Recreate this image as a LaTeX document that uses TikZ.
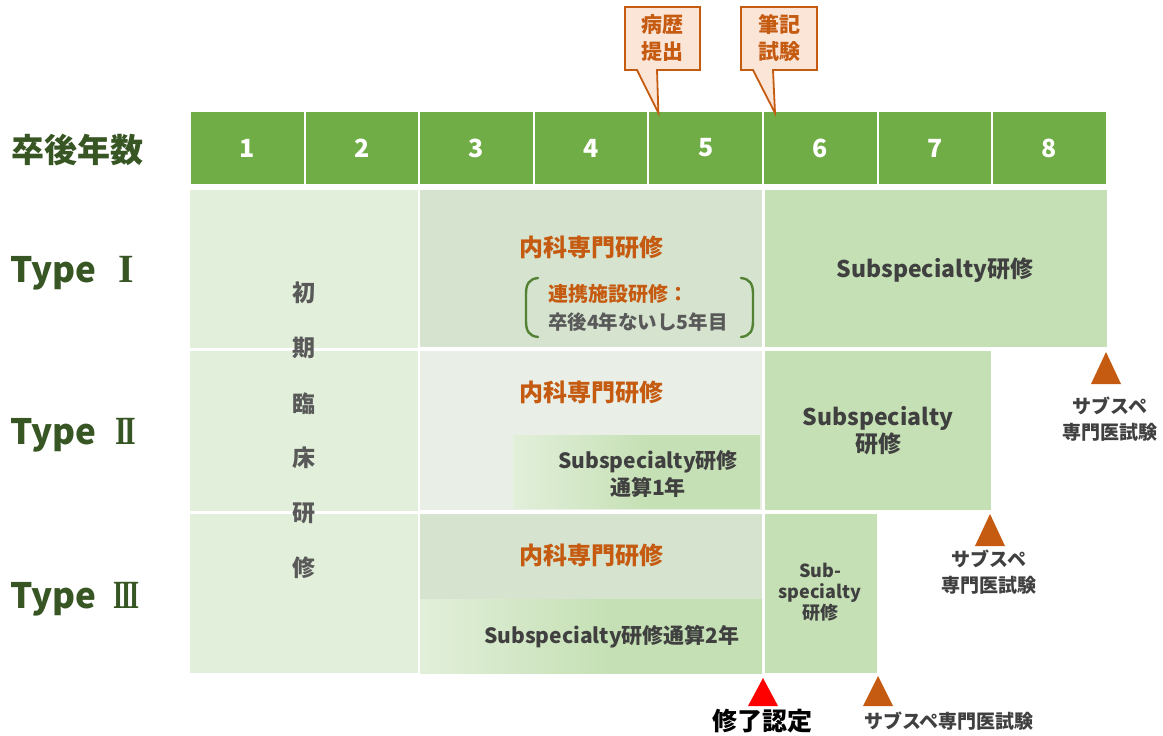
\documentclass[tikz,border=0pt]{standalone}
\usepackage{fontspec}
\setmainfont{Noto Sans CJK JP}
\newfontfamily\serifnum{Liberation Serif}
\usetikzlibrary{calc}
\definecolor{hdrgreen}{HTML}{70AD47}
\definecolor{darkgreen}{HTML}{375623}
\definecolor{pale}{HTML}{E2EFDA}
\definecolor{midgreen}{HTML}{D6E4CF}
\definecolor{paler}{HTML}{E9EFE6}
\definecolor{subgreen}{HTML}{C5E0B4}
\definecolor{orng}{HTML}{C55A11}
\definecolor{peach}{HTML}{FBE5D6}
\definecolor{txtgray}{HTML}{404040}
\definecolor{txtgray2}{HTML}{595959}
\definecolor{brgreen}{HTML}{548235}
\definecolor{redtri}{HTML}{FF0000}
\pgfdeclarehorizontalshading{fadegreen}{100bp}{color(0bp)=(pale); color(25bp)=(pale); color(53bp)=(subgreen); color(100bp)=(subgreen)}
\begin{document}
\begin{tikzpicture}[x=1pt,y=-1pt,
  every node/.style={inner sep=0pt, outer sep=0pt},
  hcell/.style={fill=hdrgreen, text=white, minimum width=112.6pt, minimum height=72pt, font=\bfseries\fontsize{25}{30}\selectfont},
  typelbl/.style={text=darkgreen, anchor=base west, font=\bfseries\fontsize{35}{40}\selectfont},
  romnum/.style={text=darkgreen, anchor=base west, font=\serifnum\bfseries\fontsize{40}{42}\selectfont},
  orgtitle/.style={text=orng, font=\bfseries\fontsize{24}{28}\selectfont},
  subtxt/.style={text=txtgray, align=center, font=\bfseries\fontsize{23}{27}\selectfont},
  vtxt/.style={text=txtgray2, font=\bfseries\fontsize{23}{27}\selectfont},
  examlbl/.style={text=txtgray, align=center, font=\bfseries\fontsize{19}{26}\selectfont},
  callout/.style={draw=orng, fill=peach, line width=1.8pt, line join=miter},
  callouttxt/.style={text=orng, align=center, font=\bfseries\fontsize{21}{27}\selectfont},
  bracket/.style={draw=brgreen, line width=2.4pt, line cap=round}
]
\useasboundingbox (0,0) rectangle (1163,736);
\fill[white] (0,0) rectangle (1163,736);

% header
\node[text=darkgreen, font=\bfseries\fontsize{33}{38}\selectfont] (yl) at (78,150) {卒後年数};
\foreach \i in {1,...,8}{
  \node[hcell] (h\i) at ({190+114.6*(\i-0.5)},148) {\i};
}

% left block
\fill[pale] (190,190) rectangle (418,673);
\draw[white, line width=2.5pt] (190,349.5) -- (418,349.5);
\draw[white, line width=2.5pt] (190,512.5) -- (418,512.5);
\foreach \c/\y [count=\k] in {初/293,期/348,臨/404,床/458,研/513,修/568}{
  \node[vtxt] (v\k) at (304,\y) {\c};
}

% Type I
\fill[midgreen] (420,190) rectangle (762,347);
\fill[subgreen] (765,190) rectangle (1107,347);
\node[orgtitle] (n1) at (591,247) {内科専門研修};
\node[text=orng, anchor=west, font=\bfseries\fontsize{20}{24}\selectfont] (r1) at (548,294) {連携施設研修：};
\node[text=txtgray2, anchor=west, font=\bfseries\fontsize{19.5}{24}\selectfont] (r2) at (548,322) {卒後4年ないし5年目};
\draw[bracket] (538,278) .. controls (529,279) and (526,284) .. (526,294) -- (526,321) .. controls (526,331) and (529,336) .. (538,337);
\draw[bracket] (741,278) .. controls (750,279) and (753,284) .. (753,294) -- (753,321) .. controls (753,331) and (750,336) .. (741,337);
\node[subtxt] (s1) at (935,270) {Subspecialty研修};

% Type II
\fill[paler] (420,351) rectangle (762,510);
\shade[shading=fadegreen] (513,435) rectangle (760,508);
\fill[subgreen] (765,351) rectangle (991,510);
\node[orgtitle] (n2) at (591,392) {内科専門研修};
\node[subtxt, font=\bfseries\fontsize{21}{27}\selectfont] (s2a) at (648,474) {Subspecialty研修\\通算1年};
\node[subtxt] (s2) at (878,431) {Subspecialty\\研修};

% Type III
\fill[midgreen] (420,514) rectangle (762,599);
\shade[shading=fadegreen] (420,599) rectangle (762,673);
\fill[subgreen] (765,514) rectangle (877,673);
\node[orgtitle] (n3) at (591,555) {内科専門研修};
\node[subtxt, font=\bfseries\fontsize{21}{27}\selectfont] (s3a) at (612,637) {Subspecialty研修通算2年};
\node[subtxt, font=\bfseries\fontsize{18}{21}\selectfont] (s3) at (820,592) {Sub-\\specialty\\研修};

% type labels
\node[typelbl] (t1) at (10,282) {Type};
\node[romnum] (t1n) at (118,282) {I};
\node[typelbl] (t2) at (10,444) {Type};
\node[romnum] (t2n) at (115,444) {\scalebox{0.75}[1]{I\kern-3pt I}};
\node[typelbl] (t3) at (10,608) {Type};
\node[romnum] (t3n) at (113,608) {\scalebox{0.65}[1]{I\kern-3pt I\kern-3pt I}};

% callouts
\coordinate (p1) at ($(h5.north west)+(9,1)$);
\coordinate (p2) at ($(h6.north west)+(11,1)$);
\draw[callout] (625,7) -- (700,7) -- (700,70) -- (657,70) -- (p1) -- (637,70) -- (625,70) -- cycle;
\node[callouttxt] (c1) at (662.5,38.5) {病歴\\提出};
\draw[callout] (741,7) -- (817,7) -- (817,70) -- (773,70) -- (p2) -- (753,70) -- (741,70) -- cycle;
\node[callouttxt] (c2) at (779,38.5) {筆記\\試験};

% triangles and labels
\fill[redtri] (763,678) -- (778,706) -- (748,706) -- cycle;
\node[font=\bfseries\fontsize{25}{30}\selectfont] (m1) at (762,721) {修了認定};
\fill[orng] (878,676) -- (893,706) -- (863,706) -- cycle;
\node[examlbl, anchor=west] (e3) at (864,721) {サブスペ専門医試験};
\fill[orng] (990,514) -- (1005,546) -- (975,546) -- cycle;
\node[examlbl] (e2) at (989,572) {サブスペ\\専門医試験};
\fill[orng] (1106,352) -- (1121,384) -- (1091,384) -- cycle;
\node[examlbl] (e1) at (1110,419) {サブスペ\\専門医試験};
\end{tikzpicture}
\end{document}
